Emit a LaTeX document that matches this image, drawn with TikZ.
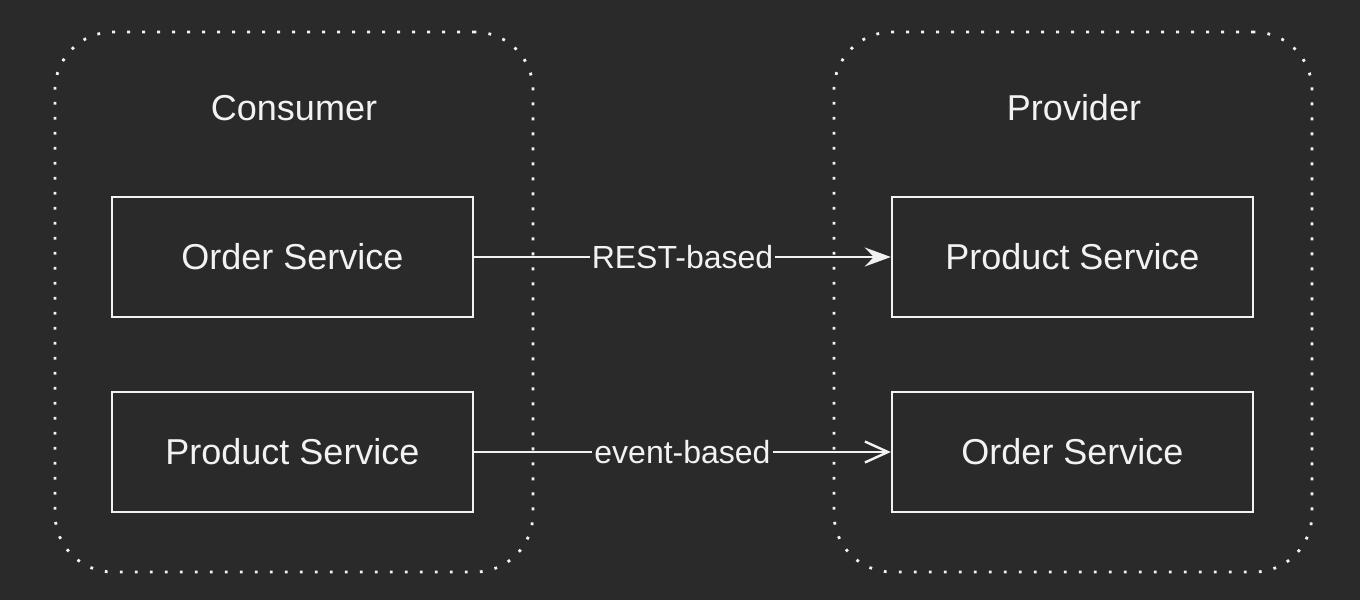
\documentclass[tikz,border=0pt]{standalone}
\usepackage{fontspec}
\setmainfont{Liberation Sans}
\usetikzlibrary{arrows.meta}

\definecolor{bgcol}{HTML}{2A2A2A}
\definecolor{inkcol}{HTML}{F2F2F2}

\tikzset{
  group/.style={draw=inkcol, line width=1.4pt, dash pattern=on 1.4pt off 6.1pt, rounded corners=29pt, minimum width=239pt, minimum height=270pt, inner sep=0pt},
  svcbox/.style={draw=inkcol, line width=1.2pt, minimum width=180.5pt, minimum height=60pt, inner sep=0pt, text=inkcol, font=\fontsize{18}{22}\selectfont},
  title/.style={text=inkcol, font=\fontsize{18}{22}\selectfont, inner sep=0pt},
  edgelabel/.style={fill=bgcol, text=inkcol, font=\fontsize{16}{19}\selectfont, inner sep=1pt},
  link/.style={draw=inkcol, line width=1.2pt}
}

\begin{document}
\begin{tikzpicture}[x=0.5pt,y=0.5pt,yscale=-1,xscale=1]
%Shape: Background
\fill [bgcol] (0,0) rectangle (1360,600);
\useasboundingbox (0,0) rectangle (1360,600);

%Shape: Rounded Rect (consumer)
\node [group] (consumer) at (294,302) {};
%Shape: Rounded Rect (provider)
\node [group] (provider) at (1073,302) {};

% Text Node
\node [title] (consumerTitle) at (294,108) {Consumer};
% Text Node
\node [title] (providerTitle) at (1074,108) {Provider};

%Shape: Rectangle
\node [svcbox] (orderC) at (292.5,257) {Order Service};
%Shape: Rectangle
\node [svcbox] (productC) at (292.5,452) {Product Service};
%Shape: Rectangle
\node [svcbox] (productP) at (1072.5,257) {Product Service};
%Shape: Rectangle
\node [svcbox] (orderP) at (1072.5,452) {Order Service};

%Straight Lines
\draw [link, -{Stealth[length=13pt, width=9.5pt, inset=4.5pt]}] (orderC) -- node [edgelabel] {REST-based} (productP);
\draw [link, -{Straight Barb[length=11.5pt, width=10.5pt, line width=1.2pt]}] (productC) -- node [edgelabel] {event-based} (orderP);

\end{tikzpicture}
\end{document}
